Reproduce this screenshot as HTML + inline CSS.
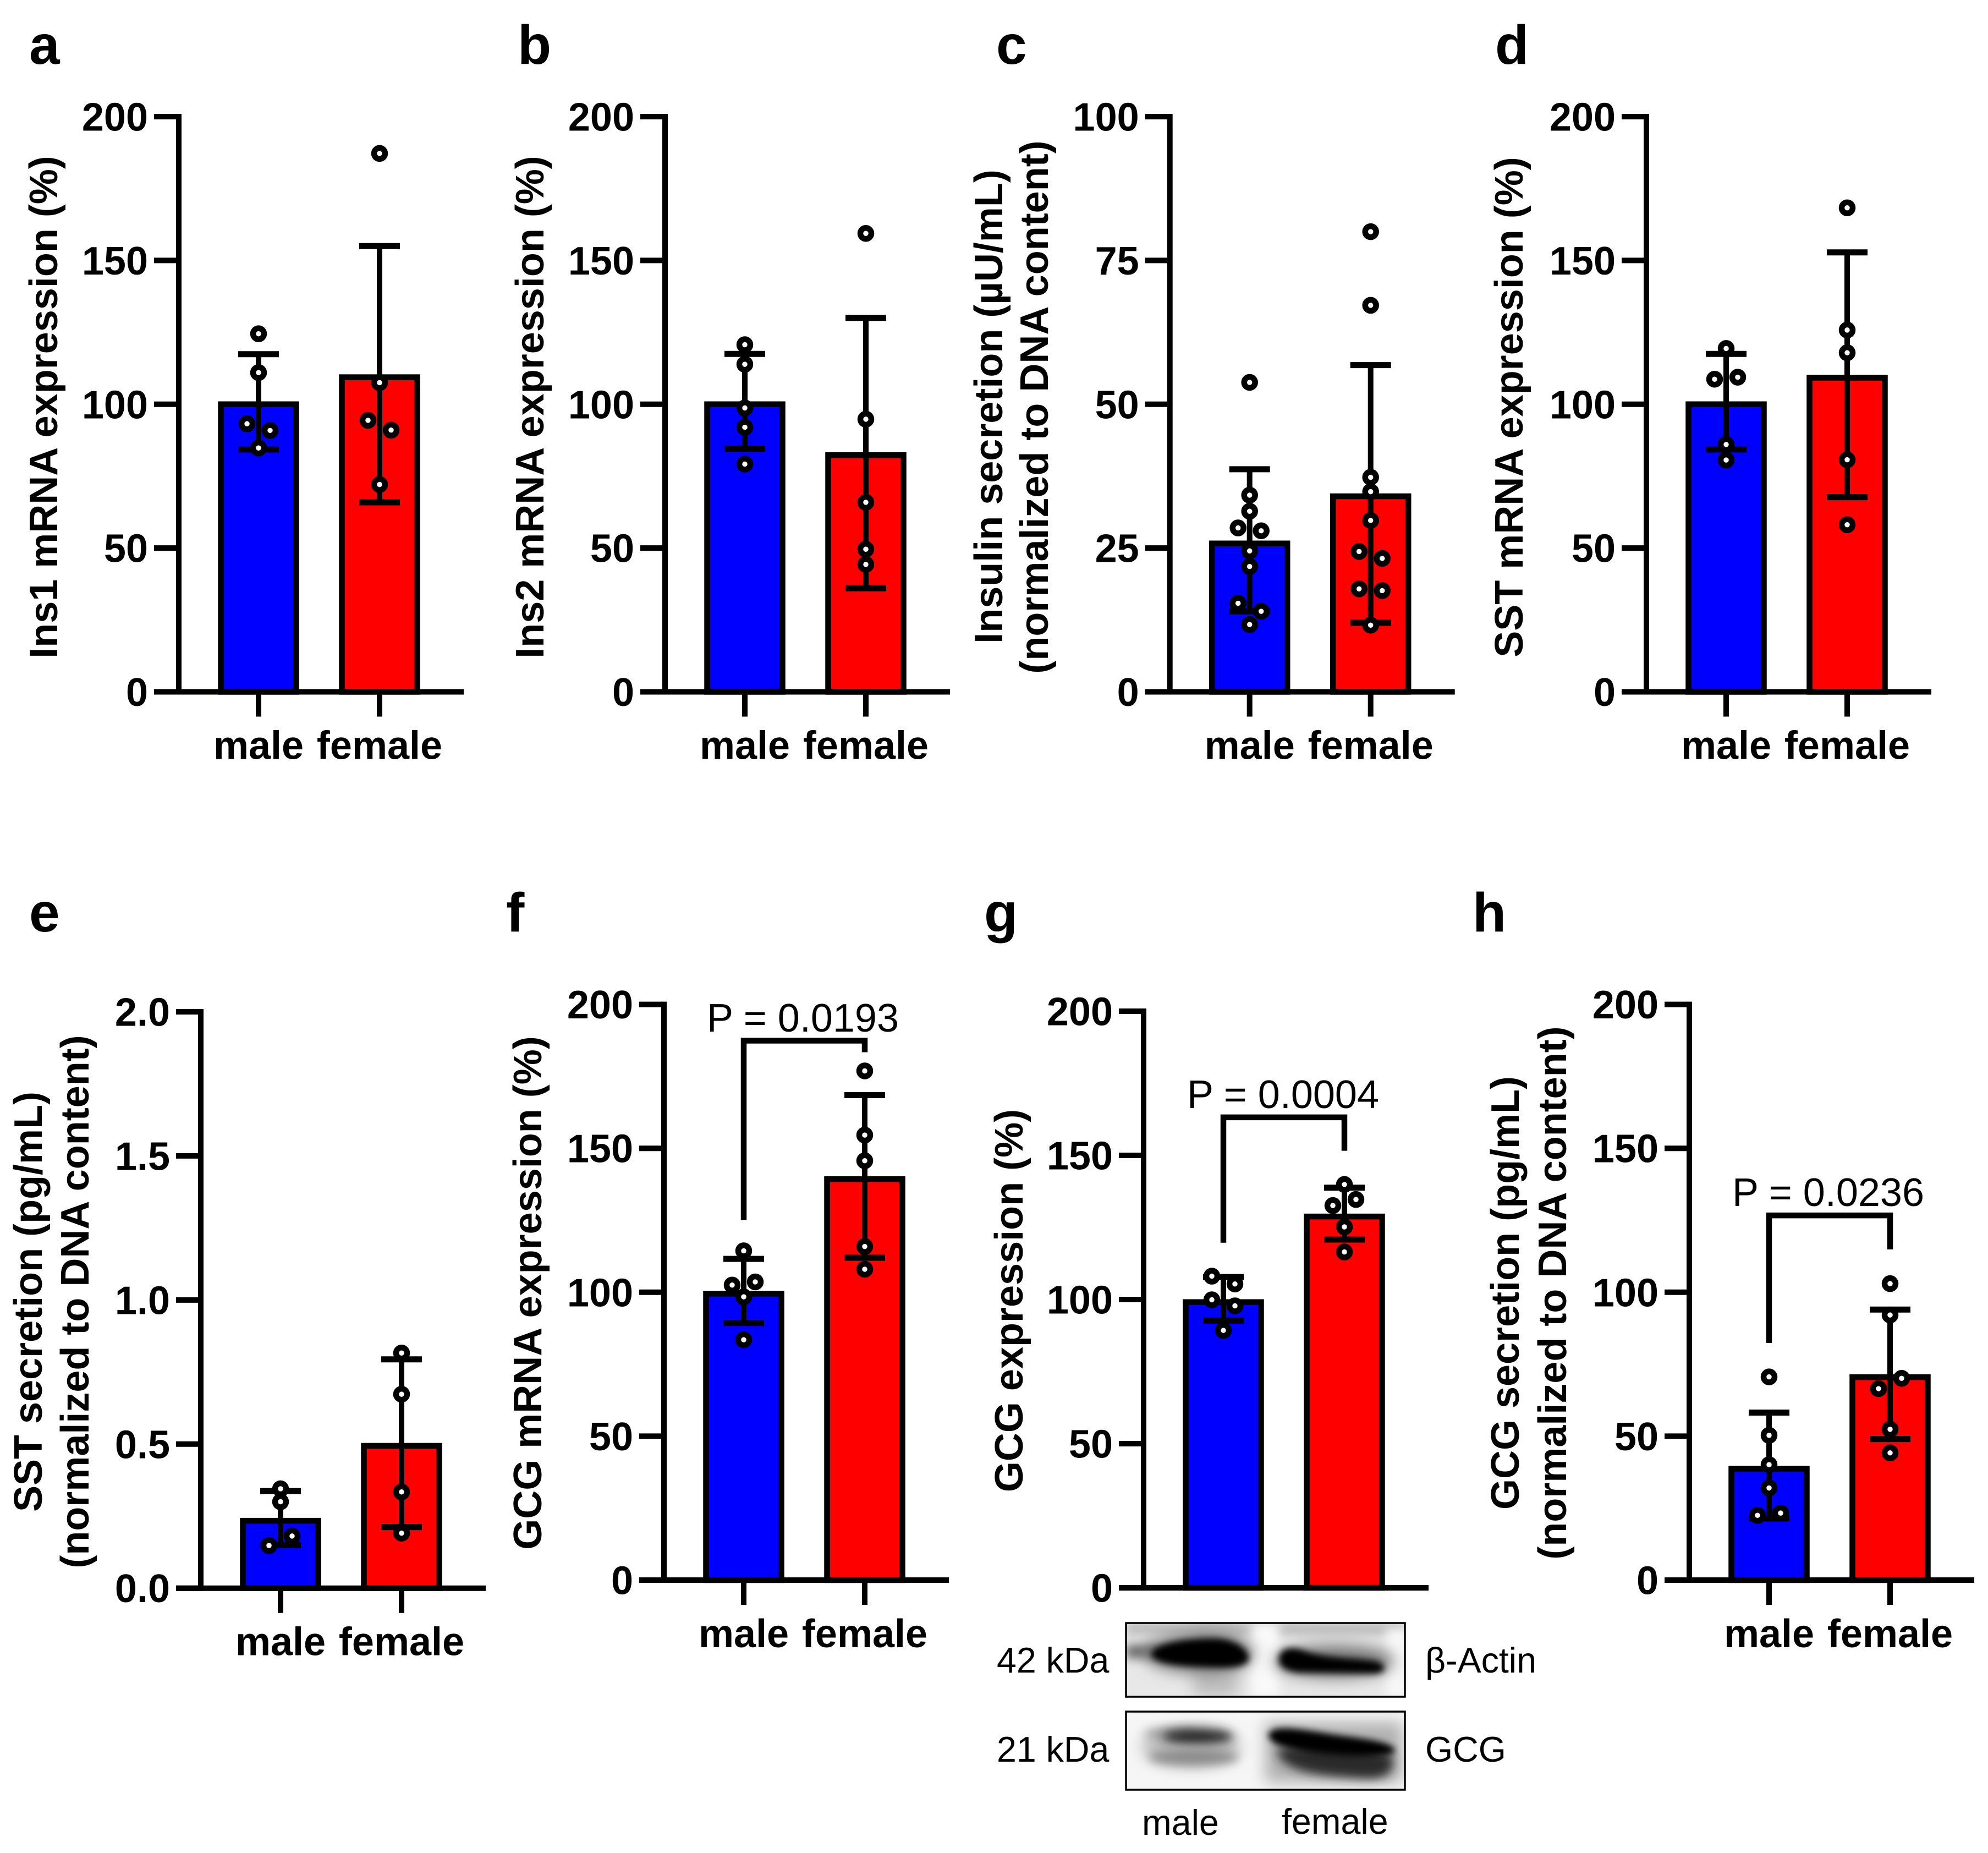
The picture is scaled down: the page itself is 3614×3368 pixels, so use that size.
<!DOCTYPE html>
<html lang="en">
<head>
<meta charset="utf-8">
<title>Sex differences in islet hormone expression and secretion</title>
<style>
html,body{margin:0;padding:0;background:#fff;}
svg{display:block;}
text{font-family:"Liberation Sans",Arial,sans-serif;fill:#000;}
.axis-title{font-size:72px;font-weight:bold;text-anchor:middle;}
.letter{font-size:100px;font-weight:bold;}
.pval{font-size:72px;}
.blot-label{font-size:64.5px;}
</style>
</head>
<body>
<svg id="figure" xmlns="http://www.w3.org/2000/svg" width="3614" height="3368" viewBox="0 0 3614 3368">
<defs>
<filter id="blur6" x="-40%" y="-80%" width="180%" height="260%"><feGaussianBlur stdDeviation="6"/></filter>
<filter id="blur9" x="-40%" y="-80%" width="180%" height="260%"><feGaussianBlur stdDeviation="9"/></filter>
<filter id="blur14" x="-60%" y="-60%" width="220%" height="220%"><feGaussianBlur stdDeviation="14"/></filter>
<clipPath id="clip-actin"><rect x="2047" y="2950" width="507" height="134"/></clipPath>
<clipPath id="clip-gcg"><rect x="2047" y="3111" width="507" height="142"/></clipPath>
</defs>
<rect width="3614" height="3368" fill="#fff"/>

<text class="letter" x="53" y="116">a</text>
<text class="letter" x="941" y="116">b</text>
<text class="letter" x="1811" y="116">c</text>
<text class="letter" x="2718" y="116">d</text>
<text class="letter" x="53" y="1693">e</text>
<text class="letter" x="920" y="1693">f</text>
<text class="letter" x="1789" y="1693">g</text>
<text class="letter" x="2677" y="1693">h</text>

<text class="axis-title" transform="translate(104,740) rotate(-90)">Ins1 mRNA expression (%)</text>
<text class="axis-title" transform="translate(988,740) rotate(-90)">Ins2 mRNA expression (%)</text>
<text class="axis-title" transform="translate(1822,739) rotate(-90)">Insulin secretion (µU/mL)</text>
<text class="axis-title" transform="translate(1905,740) rotate(-90)">(normalized to DNA content)</text>
<text class="axis-title" transform="translate(2768,740) rotate(-90)">SST mRNA expression (%)</text>
<text class="axis-title" transform="translate(76,2366) rotate(-90)">SST secretion (pg/mL)</text>
<text class="axis-title" transform="translate(161,2366) rotate(-90)">(normalized to DNA content)</text>
<text class="axis-title" transform="translate(984,2350) rotate(-90)">GCG mRNA expression (%)</text>
<text class="axis-title" transform="translate(1859,2364) rotate(-90)">GCG expression (%)</text>
<text class="axis-title" transform="translate(2761,2350) rotate(-90)">GCG secretion (pg/mL)</text>
<text class="axis-title" transform="translate(2847,2350) rotate(-90)">(normalized to DNA content)</text>

<g id="panel-a"></g>
<g id="panel-b"></g>
<g id="panel-c"></g>
<g id="panel-d"></g>
<g id="panel-e"></g>
<g id="panel-f"></g>
<g id="panel-g"></g>
<g id="panel-h"></g>

<text class="pval" x="1285" y="1875">P = 0.0193</text>
<text class="pval" x="2158" y="2014">P = 0.0004</text>
<text class="pval" x="3149" y="2192">P = 0.0236</text>

<g>
  <rect x="2047" y="2950" width="507" height="134" fill="#e8e8e8"/>
  <g clip-path="url(#clip-actin)">
    <rect x="2170" y="2950" width="80" height="134" fill="#bdbdbd" filter="url(#blur14)"/>
    <rect x="2047" y="2950" width="507" height="20" fill="#b5b5b5" filter="url(#blur9)"/>
    <rect x="2275" y="2950" width="50" height="134" fill="#fafafa" filter="url(#blur9)"/>
    <rect x="2520" y="2960" width="40" height="124" fill="#f8f8f8" filter="url(#blur9)"/>
    <rect x="2047" y="2990" width="60" height="24" fill="#666" filter="url(#blur9)"/>
    <ellipse cx="2180" cy="3005" rx="100" ry="36" fill="#777" filter="url(#blur14)"/>
    <ellipse cx="2425" cy="3020" rx="110" ry="30" fill="#777" filter="url(#blur14)"/>
    <path d="M2092 3006 C2096 2988 2150 2978 2205 2978 C2245 2978 2270 2998 2270 3014 C2270 3030 2235 3032 2205 3031 C2150 3029 2096 3026 2092 3006Z" fill="#000" filter="url(#blur6)"/>
    <path d="M2325 3016 C2325 2994 2350 2992 2372 3001 C2410 3015 2470 3013 2505 3020 C2526 3030 2518 3043 2490 3042 L2360 3040 C2338 3037 2325 3030 2325 3016Z" fill="#000" filter="url(#blur6)"/>
  </g>
  <rect x="2047" y="2950" width="507" height="134" fill="none" stroke="#000" stroke-width="3.5"/>
</g>
<g>
  <rect x="2047" y="3111" width="507" height="142" fill="#f6f6f6"/>
  <g clip-path="url(#clip-gcg)">
    <ellipse cx="2165" cy="3175" rx="90" ry="36" fill="#bbb" filter="url(#blur14)"/>
    <ellipse cx="2130" cy="3152" rx="50" ry="10" fill="#999" filter="url(#blur9)"/>
    <ellipse cx="2178" cy="3156" rx="64" ry="14" fill="#2c2c2c" filter="url(#blur9)"/>
    <ellipse cx="2170" cy="3194" rx="82" ry="14" fill="#8a8a8a" filter="url(#blur9)"/>
    <rect x="2300" y="3130" width="250" height="110" fill="#b0b0b0" filter="url(#blur14)"/>
    <path d="M2320 3180 C2380 3170 2470 3175 2530 3190 C2540 3225 2515 3236 2470 3232 C2410 3228 2330 3224 2320 3180Z" fill="#2a2a2a" filter="url(#blur9)"/>
    <path d="M2306 3152 C2314 3134 2360 3142 2420 3152 C2475 3160 2526 3164 2536 3180 C2538 3194 2480 3194 2430 3190 C2370 3186 2304 3176 2306 3152Z" fill="#000" filter="url(#blur6)"/>
  </g>
  <rect x="2047" y="3111" width="507" height="142" fill="none" stroke="#000" stroke-width="3.5"/>
</g>
<text class="blot-label" x="1812" y="3040">42 kDa</text>
<text class="blot-label" x="1812" y="3202">21 kDa</text>
<text class="blot-label" x="2591" y="3040">β-Actin</text>
<text class="blot-label" x="2591" y="3202">GCG</text>
<text class="blot-label" x="2076" y="3335">male</text>
<text class="blot-label" x="2330" y="3333">female</text>
</svg>

<script>
const categories = ['male', 'female'];
const barColors = ['#0000ff', '#ff0000'];

const ticks200 = ['0', '50', '100', '150', '200'];
const ticks100 = ['0', '25', '50', '75', '100'];
const ticks2 = ['0.0', '0.5', '1.0', '1.5', '2.0'];

const aMeans = [100, 109.4];
const aErrHigh = [117.4, 155];
const aErrLow = [84.3, 65.9];
const aMalePoints = [124.5, 111, 93.2, 90.9, 84.8];
const aMaleSlots = [0, 0, -1, 1, 0];
const aFemalePoints = [187.2, 107.5, 94.4, 91, 72.1];
const aFemaleSlots = [0, 0, -1, 1, 0];

const bMeans = [100, 82.3];
const bErrHigh = [117.5, 130];
const bErrLow = [84.5, 36];
const bMalePoints = [120.7, 113.9, 98.7, 92, 79.2];
const bMaleSlots = [0, 0, 0, 0, 0];
const bFemalePoints = [159.4, 94.8, 65.9, 49.6, 44.3];
const bFemaleSlots = [0, 0, 0, 0, 0];

const cMeans = [25.8, 34];
const cErrHigh = [38.7, 56.8];
const cErrLow = [14, 12];
const cMalePoints = [53.8, 34.2, 31.4, 28.5, 28, 24.5, 21.8, 15.4, 14, 11.7];
const cMaleSlots = [0, 0, 0, -1, 1, 0, 0, -1, 1, 0];
const cFemalePoints = [80, 67.2, 37.3, 34.8, 29.8, 24.4, 23.2, 17.9, 17.6, 11.6];
const cFemaleSlots = [0, 0, 0, 0, 0, -1, 1, -1, 1, 0];

const dMeans = [100, 109.2];
const dErrHigh = [117.5, 152.8];
const dErrLow = [84.3, 67.7];
const dMalePoints = [119.4, 109.4, 108.7, 86, 80.6];
const dMaleSlots = [0, 1, -1, 0, 0];
const dFemalePoints = [168.3, 125.8, 117.9, 80.7, 58.1];
const dFemaleSlots = [0, 0, 0, 0, 0];

const eMeans = [0.234, 0.494];
const eErrHigh = [0.337, 0.794];
const eErrLow = [0.15, 0.212];
const eMalePoints = [0.345, 0.3, 0.181, 0.148];
const eMaleSlots = [0, 0, 1, -1];
const eFemalePoints = [0.816, 0.673, 0.334, 0.191];
const eFemaleSlots = [0, 0, 0, 0];

const fMeans = [99.5, 139.3];
const fErrHigh = [111.6, 168.5];
const fErrLow = [89.3, 112];
const fMalePoints = [114.4, 103.6, 102.5, 98.4, 83.5];
const fMaleSlots = [0, 1, -1, 0, 0];
const fFemalePoints = [176.9, 154.6, 145.7, 115.9, 108];
const fFemaleSlots = [0, 0, 0, 0, 0];
const fBracket = [187.4, 125.1, 183.4];

const gMeans = [99.1, 128.8];
const gErrHigh = [107.8, 138.8];
const gErrLow = [92.7, 120.8];
const gMalePoints = [108.1, 105.4, 99.9, 97.8, 89.3];
const gMaleSlots = [-1, 1, -1, 1, 0];
const gFemalePoints = [139.9, 134.7, 132.6, 125.2, 116.5];
const gFemaleSlots = [0, 1, -1, 0, 0];
const gBracket = [163.2, 119.7, 151.6];

const hMeans = [38.7, 70.5];
const hErrHigh = [58.2, 94];
const hErrLow = [21.4, 49];
const hMalePoints = [70.6, 50.3, 40.1, 32, 23.3, 22.5];
const hMaleSlots = [0, 0, 0, 0, 1, -1];
const hFemalePoints = [103, 92.1, 70.1, 66.5, 52.4, 44.2];
const hFemaleSlots = [0, 0, 1, -1, 0, 0];
const hBracket = [126.7, 82.4, 114.9];

const SVG_NS = 'http://www.w3.org/2000/svg';

function mk(parent, tag, attrs) {
  const el = document.createElementNS(SVG_NS, tag);
  for (const k in attrs) el.setAttribute(k, attrs[k]);
  parent.appendChild(el);
  return el;
}

function drawPanel(id, frame, tickLabels, means, errHigh, errLow, maleVals, maleSlots, femaleVals, femaleSlots, bracket) {
  const g = document.getElementById(id);
  const maxV = Number(tickLabels[tickLabels.length - 1]);
  const yScale = function (v) { return frame.y0 - (v / maxV) * (frame.y0 - frame.yTop); };
  const xScale = function (i) { return frame.axisX + 145 + i * 220; };

  means.forEach(function (m, i) {
    const cx = xScale(i);
    const bar = mk(g, 'rect', { x: cx - 68.5, y: yScale(m), width: 137, height: frame.y0 - yScale(m), fill: barColors[i], stroke: '#000', 'stroke-width': 10.5 });
    
    
  });

  const yAxis = mk(g, 'line', { x1: frame.axisX, x2: frame.axisX, y1: frame.yTop - 5, y2: frame.y0 + 5, stroke: '#000', 'stroke-width': 10 });
  
  

  const xAxis = mk(g, 'line', { x1: frame.axisX - 45, x2: frame.axisX + 518, y1: frame.y0, y2: frame.y0, stroke: '#000', 'stroke-width': 10 });
  
  

  tickLabels.forEach(function (label) {
    const y = yScale(Number(label));
    const tick = mk(g, 'line', { x1: frame.axisX - 45, x2: frame.axisX, y1: y, y2: y, stroke: '#000', 'stroke-width': 10 });
    
    
    const text = mk(g, 'text', { x: frame.axisX - 56, y: y + 25.5, 'text-anchor': 'end', 'font-size': 72, 'font-weight': 'bold' });
    text.textContent = label;
    
    
  });

  if (!frame.noXAxisLabels) {
    categories.forEach(function (name, i) {
      const cx = xScale(i);
      const tick = mk(g, 'line', { x1: cx, x2: cx, y1: frame.y0, y2: frame.y0 + 45, stroke: '#000', 'stroke-width': 10 });
      
      
      const text = mk(g, 'text', { x: cx, y: frame.y0 + 122, 'text-anchor': 'middle', 'font-size': 72, 'font-weight': 'bold' });
      text.textContent = name;
      
      
    });
  }

  means.forEach(function (m, i) {
    const cx = xScale(i);
    const hi = yScale(errHigh[i]);
    const lo = yScale(errLow[i]);
    const stem = mk(g, 'line', { x1: cx, x2: cx, y1: hi, y2: lo, stroke: '#000', 'stroke-width': 10 });
    
    
    const capHigh = mk(g, 'line', { x1: cx - 37, x2: cx + 37, y1: hi, y2: hi, stroke: '#000', 'stroke-width': 11 });
    
    
    const capLow = mk(g, 'line', { x1: cx - 37, x2: cx + 37, y1: lo, y2: lo, stroke: '#000', 'stroke-width': 11 });
    
    
  });

  [[maleVals, maleSlots], [femaleVals, femaleSlots]].forEach(function (group, i) {
    group[0].forEach(function (v, k) {
      const pt = mk(g, 'circle', { cx: xScale(i) + group[1][k] * 21, cy: yScale(v), r: 10, fill: '#fff', stroke: '#000', 'stroke-width': 10.5 });
      
      
    });
  });

  if (bracket) {
    const top = yScale(bracket[0]);
    const path = mk(g, 'path', {
      d: 'M' + xScale(0) + ' ' + yScale(bracket[1]) + 'V' + top + 'H' + xScale(1) + 'V' + yScale(bracket[2]),
      fill: 'none', stroke: '#000', 'stroke-width': 10.5
    });
    
    
  }
}

drawPanel('panel-a', { axisX: 325, y0: 1257.5, yTop: 212 }, ticks200, aMeans, aErrHigh, aErrLow, aMalePoints, aMaleSlots, aFemalePoints, aFemaleSlots);
drawPanel('panel-b', { axisX: 1209, y0: 1257.5, yTop: 212 }, ticks200, bMeans, bErrHigh, bErrLow, bMalePoints, bMaleSlots, bFemalePoints, bFemaleSlots);
drawPanel('panel-c', { axisX: 2126.7, y0: 1257.5, yTop: 212 }, ticks100, cMeans, cErrHigh, cErrLow, cMalePoints, cMaleSlots, cFemalePoints, cFemaleSlots);
drawPanel('panel-d', { axisX: 2993, y0: 1257.5, yTop: 212 }, ticks200, dMeans, dErrHigh, dErrLow, dMalePoints, dMaleSlots, dFemalePoints, dFemaleSlots);
drawPanel('panel-e', { axisX: 365, y0: 2886.7, yTop: 1839 }, ticks2, eMeans, eErrHigh, eErrLow, eMalePoints, eMaleSlots, eFemalePoints, eFemaleSlots);
drawPanel('panel-f', { axisX: 1207, y0: 2872, yTop: 1825.6 }, ticks200, fMeans, fErrHigh, fErrLow, fMalePoints, fMaleSlots, fFemalePoints, fFemaleSlots, fBracket);
drawPanel('panel-g', { axisX: 2079, y0: 2886, yTop: 1838, noXAxisLabels: true }, ticks200, gMeans, gErrHigh, gErrLow, gMalePoints, gMaleSlots, gFemalePoints, gFemaleSlots, gBracket);
drawPanel('panel-h', { axisX: 3071, y0: 2872, yTop: 1825.6 }, ticks200, hMeans, hErrHigh, hErrLow, hMalePoints, hMaleSlots, hFemalePoints, hFemaleSlots, hBracket);
</script>
</body>
</html>
